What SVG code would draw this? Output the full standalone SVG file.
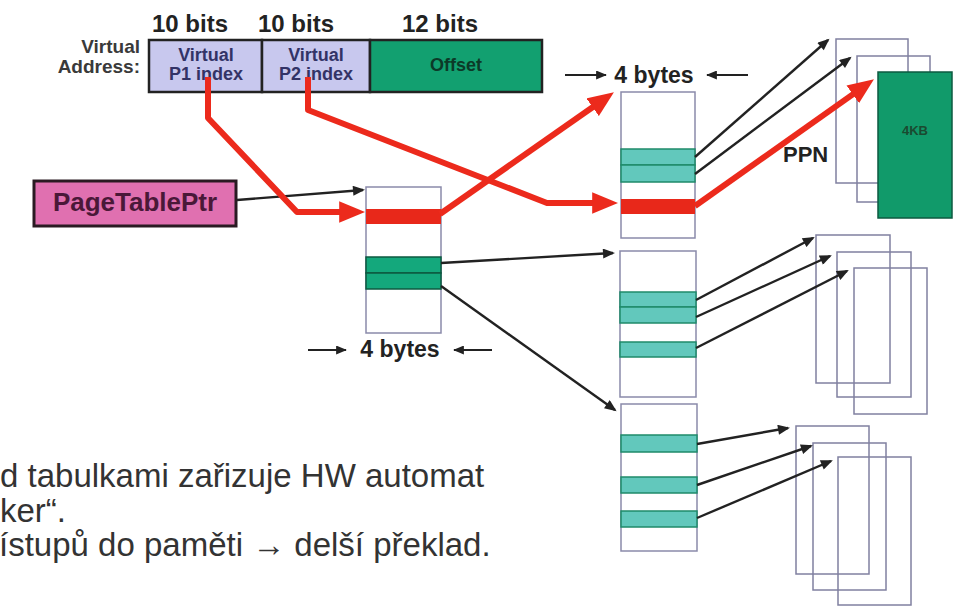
<svg xmlns="http://www.w3.org/2000/svg" width="954" height="606" viewBox="0 0 954 606">
<defs>
<style>
.b{font-family:"Liberation Sans",Arial,sans-serif;font-weight:bold}
.n{font-family:"Liberation Sans",Arial,sans-serif}
.tbl{fill:#fff;stroke:#8a8aaa;stroke-width:1.5}
.frm{fill:none;stroke:#8080a0;stroke-width:1.5}
.teal{fill:#62c8bc;stroke:#1f8a6a;stroke-width:1.5}
.grn{fill:#14a87c;stroke:#0d5a40;stroke-width:1.5}
.red{fill:#e8281a}
.blk{fill:none;stroke:#222;stroke-width:2.4}
.rl{fill:none;stroke:#ec2a1c;stroke-width:6;stroke-linejoin:round}
</style>
<marker id="ab" viewBox="0 0 12 10" refX="10" refY="5" markerWidth="13" markerHeight="10" orient="auto" markerUnits="userSpaceOnUse"><path d="M0,0 L12,5 L0,10 z" fill="#222"/></marker>
<marker id="ar" viewBox="0 0 24 20" refX="10" refY="10" markerWidth="26" markerHeight="22" orient="auto" markerUnits="userSpaceOnUse"><path d="M0,0 L24,10 L0,20 z" fill="#ec2a1c"/></marker>
<marker id="as" viewBox="0 0 12 10" refX="11" refY="5" markerWidth="11" markerHeight="9" orient="auto" markerUnits="userSpaceOnUse"><path d="M0,0 L12,5 L0,10 z" fill="#222"/></marker>
</defs>
<rect width="954" height="606" fill="#fff"/>

<g id="va-labels">
<text class="b" x="152" y="32" font-size="24" fill="#222">10 bits</text>
<text class="b" x="258" y="32" font-size="24" fill="#222">10 bits</text>
<text class="b" x="402" y="32" font-size="24" fill="#222">12 bits</text>
<text class="b" x="140" y="53" font-size="19" fill="#3a3a3a" text-anchor="end">Virtual</text>
<text class="b" x="140" y="73" font-size="19" fill="#3a3a3a" text-anchor="end">Address:</text>
</g>

<g id="virtual-address">
<rect x="149" y="40" width="113" height="52" fill="#c8c8ee" stroke="#222" stroke-width="2.5"/>
<rect x="262" y="40" width="108" height="52" fill="#c8c8ee" stroke="#222" stroke-width="2.5"/>
<rect x="370" y="40" width="172" height="52" fill="#12a070" stroke="#222" stroke-width="2.5"/>
<text class="b" x="206" y="61" font-size="18" fill="#333366" text-anchor="middle">Virtual</text>
<text class="b" x="206" y="80" font-size="18" fill="#333366" text-anchor="middle">P1 index</text>
<text class="b" x="316" y="61" font-size="18" fill="#333366" text-anchor="middle">Virtual</text>
<text class="b" x="316" y="80" font-size="18" fill="#333366" text-anchor="middle">P2 index</text>
<text class="b" x="456" y="71" font-size="18" fill="#0c3a28" text-anchor="middle">Offset</text>
</g>

<g id="pagetableptr">
<rect x="34" y="181" width="202" height="45" fill="#e070b0" stroke="#2a1a22" stroke-width="3"/>
<text class="b" x="135" y="211" font-size="26" fill="#4a1838" text-anchor="middle">PageTablePtr</text>
</g>

<g id="level1">
<rect class="tbl" x="366" y="187" width="75" height="146"/>
<rect class="red" x="366" y="209" width="75" height="15"/>
<rect class="grn" x="366" y="257" width="75" height="16"/>
<rect class="grn" x="366" y="273" width="75" height="16"/>
<line x1="308" y1="350" x2="346" y2="350" stroke="#222" stroke-width="2" marker-end="url(#as)"/>
<text class="b" x="400" y="357" font-size="23" fill="#222" text-anchor="middle">4 bytes</text>
<line x1="492" y1="350" x2="454" y2="350" stroke="#222" stroke-width="2" marker-end="url(#as)"/>
</g>

<g id="level2a">
<rect class="tbl" x="621" y="92" width="74" height="146"/>
<rect class="teal" x="621" y="149" width="74" height="16"/>
<rect class="teal" x="621" y="165" width="74" height="17"/>
<rect class="red" x="621" y="199" width="74" height="15"/>
<line x1="565" y1="75" x2="606" y2="75" stroke="#222" stroke-width="2" marker-end="url(#as)"/>
<text class="b" x="654" y="83" font-size="23" fill="#222" text-anchor="middle">4 bytes</text>
<line x1="748" y1="75" x2="707" y2="75" stroke="#222" stroke-width="2" marker-end="url(#as)"/>
</g>

<g id="level2b">
<rect class="tbl" x="620" y="251" width="76" height="146"/>
<rect class="teal" x="620" y="292" width="76" height="15"/>
<rect class="teal" x="620" y="307" width="76" height="16"/>
<rect class="teal" x="620" y="342" width="76" height="15"/>
</g>

<g id="level2c">
<rect class="tbl" x="621" y="404" width="76" height="147"/>
<rect class="teal" x="621" y="435" width="76" height="17"/>
<rect class="teal" x="621" y="477" width="76" height="16"/>
<rect class="teal" x="621" y="511" width="76" height="16"/>
</g>

<g id="frames-top">
<rect class="frm" x="836" y="39" width="72" height="144"/>
<rect class="frm" x="857" y="56" width="73" height="146"/>
<rect x="878" y="72" width="74" height="146" fill="#119a6a" stroke="#0c5a40" stroke-width="1.5"/>
<text class="b" x="915" y="135" font-size="13" fill="#1a4a30" text-anchor="middle">4KB</text>
</g>

<g id="frames-middle">
<rect class="frm" x="816" y="235" width="74" height="148"/>
<rect class="frm" x="837" y="252" width="74" height="145"/>
<rect class="frm" x="854" y="268" width="73" height="146"/>
</g>

<g id="frames-bottom">
<rect class="frm" x="796" y="426" width="73" height="148"/>
<rect class="frm" x="813" y="443" width="73" height="147"/>
<rect class="frm" x="838" y="457" width="73" height="148"/>
</g>

<g id="ppn-label">
<text class="b" x="783" y="162" font-size="22" fill="#222">PPN</text>
</g>

<g id="connectors">
<line class="blk" x1="237" y1="200" x2="363" y2="190" marker-end="url(#ab)"/>
<line class="blk" x1="695" y1="157" x2="828" y2="40" marker-end="url(#ab)"/>
<line class="blk" x1="695" y1="174" x2="850" y2="58" marker-end="url(#ab)"/>
<line class="blk" x1="441" y1="263" x2="613" y2="253" marker-end="url(#ab)"/>
<line class="blk" x1="441" y1="286" x2="615" y2="410" marker-end="url(#ab)"/>
<line class="blk" x1="696" y1="300" x2="813" y2="238" marker-end="url(#ab)"/>
<line class="blk" x1="696" y1="317" x2="830" y2="256" marker-end="url(#ab)"/>
<line class="blk" x1="696" y1="348" x2="847" y2="271" marker-end="url(#ab)"/>
<line class="blk" x1="697" y1="444" x2="788" y2="428" marker-end="url(#ab)"/>
<line class="blk" x1="697" y1="485" x2="811" y2="446" marker-end="url(#ab)"/>
<line class="blk" x1="697" y1="518" x2="831" y2="461" marker-end="url(#ab)"/>
<path class="rl" d="M208,77 L208,118 L297,212 L350,212" marker-end="url(#ar)"/>
<path class="rl" d="M308,77 L308,110 L547,203 L603,203" marker-end="url(#ar)"/>
<path class="rl" d="M440,214 L601.5,101" marker-end="url(#ar)"/>
<path class="rl" d="M695,206 L861.6,88.1" marker-end="url(#ar)"/>
</g>

<g id="caption">
<text class="n" x="0" y="487" font-size="33" fill="#333">d tabulkami zařizuje HW automat</text>
<text class="n" x="0" y="522" font-size="33" fill="#333">ker“.</text>
<text class="n" x="-1" y="556" font-size="33" fill="#333">ístupů do paměti → delší překlad.</text>
</g>
</svg>
